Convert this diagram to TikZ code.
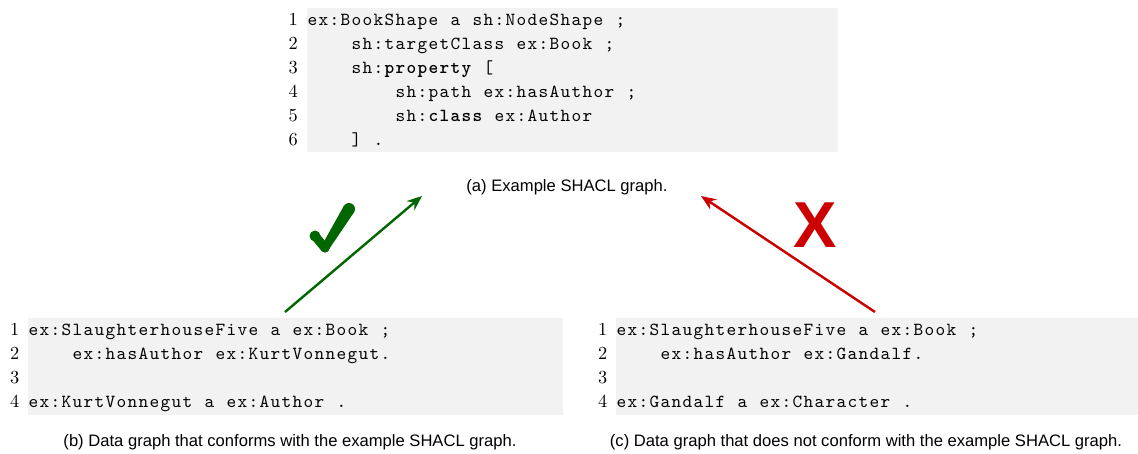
\documentclass[tikz,border=0pt]{standalone}
\usepackage{fontspec}
\newfontfamily\capfont{Liberation Sans}
\newfontfamily\codefont{lmmono10-regular}[Extension=.otf, BoldFont=lmmonolt10-bold]
\newfontfamily\numfont{lmroman10-regular}[Extension=.otf]
\usetikzlibrary{arrows.meta}

\definecolor{codebg}{RGB}{242,242,242}
\definecolor{okgreen}{RGB}{0,102,0}
\definecolor{badred}{RGB}{204,0,0}

% fixed-width columns, one cell per character (as in listings)
\newlength\cellw \setlength\cellw{11pt}
\ExplSyntaxOn
\NewDocumentCommand\cells{m}{\str_map_inline:nn{#1}{\makebox[\cellw][c]{##1}}}
\ExplSyntaxOff
\newcommand\kw[1]{{\bfseries\cells{#1}}}
\newcommand\gap[1]{\hspace*{#1\cellw}}

\tikzset{
  codebox/.style={fill=codebg, draw=none},
  codeline/.style={anchor=base west, inner sep=0pt, outer sep=0pt,
    font=\codefont\fontsize{18.4}{24}\selectfont},
  lineno/.style={anchor=base east, inner sep=0pt,
    font=\numfont\fontsize{18.4}{24}\selectfont},
  caption/.style={anchor=base, inner sep=0pt,
    font=\capfont\fontsize{16.6}{20}\selectfont},
  okarrow/.style={draw=okgreen, line width=2.4pt, -{Stealth[length=15pt,width=12pt]}},
  badarrow/.style={draw=badred, line width=2.4pt, -{Stealth[length=15pt,width=12pt]}},
}

\begin{document}
\begin{tikzpicture}[x=1pt, y=-1pt]
\useasboundingbox (0,0) rectangle (1138,453);

% ---- (a) the shapes graph ----
\fill[codebox] (307,8) rectangle (838,152);
\foreach \n [count=\i from 0] in {1,...,6}
  \node[lineno] at (298,25+24.1*\i) {\n};
\node[codeline] (a1) at (307,25)    {\cells{ex:BookShape a sh:NodeShape ;}};
\node[codeline] (a2) at (307,49.1)  {\gap{4}\cells{sh:targetClass ex:Book ;}};
\node[codeline] (a3) at (307,73.2)  {\gap{4}\cells{sh:}\kw{property}\gap{1}\cells{[}};
\node[codeline] (a4) at (307,97.3)  {\gap{8}\cells{sh:path ex:hasAuthor ;}};
\node[codeline] (a5) at (307,121.4) {\gap{8}\cells{sh:}\kw{class}\gap{1}\cells{ex:Author}};
\node[codeline] (a6) at (307,145.5) {\gap{4}\cells{]}\gap{1}\cells{.}};
\node[caption] (capa) at (567,191) {(a) Example SHACL graph.};

% ---- (b) conforming data graph ----
\fill[codebox] (28,318) rectangle (563,415);
\foreach \n [count=\i from 0] in {1,...,4}
  \node[lineno] at (19.5,335.5+24.1*\i) {\n};
\node[codeline] (b1) at (28,335.5) {\cells{ex:SlaughterhouseFive a ex:Book ;}};
\node[codeline] (b2) at (28,359.6) {\gap{4}\cells{ex:hasAuthor ex:KurtVonnegut.}};
\node[codeline] (b4) at (28,407.8) {\cells{ex:KurtVonnegut a ex:Author .}};
\node[caption] (capb) at (290,446) {(b) Data graph that conforms with the example SHACL graph.};

% ---- (c) non-conforming data graph ----
\fill[codebox] (616,318) rectangle (1138,415);
\foreach \n [count=\i from 0] in {1,...,4}
  \node[lineno] at (607.5,335.5+24.1*\i) {\n};
\node[codeline] (c1) at (616,335.5) {\cells{ex:SlaughterhouseFive a ex:Book ;}};
\node[codeline] (c2) at (616,359.6) {\gap{4}\cells{ex:hasAuthor ex:Gandalf.}};
\node[codeline] (c4) at (616,407.8) {\cells{ex:Gandalf a ex:Character .}};
\node[caption] (capc) at (866,446) {(c) Data graph that does not conform with the example SHACL graph.};

% ---- validation arrows ----
\coordinate (gstart) at (285,312);
\coordinate (gend)   at (422,196);
\coordinate (rstart) at (875,312);
\coordinate (rend)   at (701,196);
\draw[okarrow]  (gstart) -- (gend);
\draw[badarrow] (rstart) -- (rend);

% check mark
\begin{scope}[okgreen]
  \draw[line width=9pt, line cap=round] (315,236) -- (325,248);
  \fill (315,236) circle (5.5pt);
  \fill (328.5,250.0) -- (321.5,246.0) -- (343.8,206.0) -- (354.2,212.0) -- cycle;
  \fill (349,209) circle (6pt);
  \fill (325,248) circle (4.5pt);
\end{scope}

% cross
\node[anchor=base, inner sep=0pt, text=badred,
      font=\capfont\bfseries\fontsize{65}{65}\selectfont] (xmark) at (815.5,247) {X};
\end{tikzpicture}
\end{document}
